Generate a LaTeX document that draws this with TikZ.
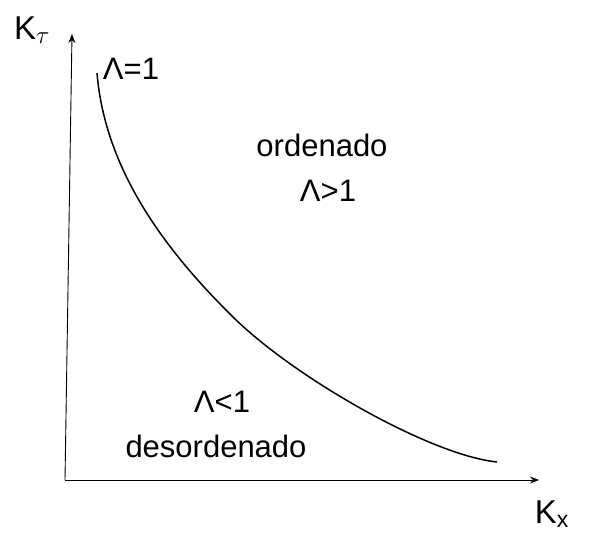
\documentclass[tikz,border=0pt]{standalone}
\usepackage{fontspec}
\setmainfont{Liberation Sans}
\usetikzlibrary{positioning,arrows.meta}

\begin{document}
\begin{tikzpicture}[
    x=1pt, y=-1pt,
    axis/.style={-{Stealth[length=9pt,width=7pt]}, line width=0.9pt},
    crit/.style={line width=1.5pt},
    lbl/.style={font=\fontsize{31}{34}\selectfont, inner sep=1pt},
    axlbl/.style={font=\fontsize{33}{36}\selectfont, inner sep=1pt}
]
    \useasboundingbox (0,0) rectangle (589,543);

    % Axes
    \coordinate (orig) at (65,480);
    \coordinate (ytip) at (72,34);
    \coordinate (xtip) at (539,480);
    \draw[axis] (orig) -- (ytip);
    \draw[axis] (orig) -- (xtip);

    \node[axlbl] (ktau) at (32,30) {K$_{\tau}$};
    \node[axlbl] (kx) at (552,514) {K$_{\mathrm{x}}$};

    % Critical line
    \coordinate (ctop) at (97,73);
    \coordinate (cmid) at (233,317);
    \coordinate (cend) at (497,462);
    \draw[crit] (ctop) .. controls (105,170) and (165,250) .. (cmid)
        .. controls (295,378) and (430,455) .. (cend);

    \node[lbl] (lone) at (131,69) {Λ=1};

    % Ordered phase
    \node[lbl] (ord) at (322,145) {ordenado};
    \node[lbl] (ordgt) at (328,191) {Λ>1};

    % Disordered phase
    \node[lbl] (deslt) at (222,402) {Λ<1};
    \node[lbl] (des) at (216,446) {desordenado};

\end{tikzpicture}
\end{document}
